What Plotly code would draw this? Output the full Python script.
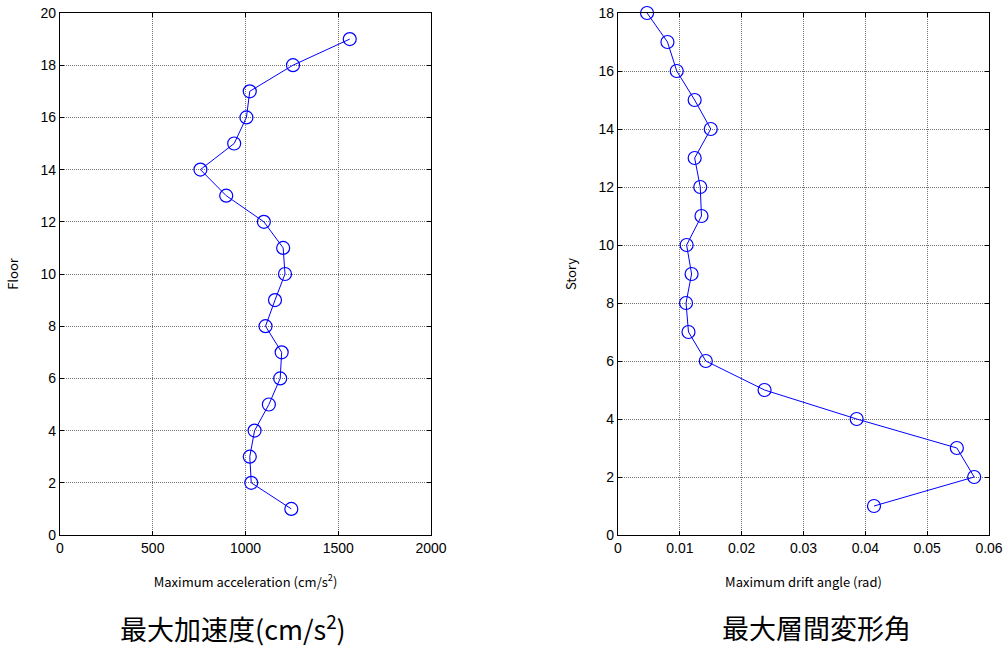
import plotly.graph_objects as go

floors = list(range(1, 20))
accel = [1247, 1031, 1023, 1049, 1126, 1187, 1195, 1108, 1159, 1213,
         1203, 1099, 896, 757, 939, 1005, 1023, 1256, 1562]

stories = list(range(1, 19))
drift = [0.0414, 0.0576, 0.0548, 0.0386, 0.0237, 0.0142, 0.0114, 0.0110, 0.0119,
         0.0111, 0.0135, 0.0133, 0.0124, 0.0150, 0.0124, 0.0095, 0.0080, 0.0047]

W, H = 1007, 647
fig = go.Figure()

mk = dict(symbol="circle-open", size=13, color="#0000ff", line=dict(width=1.2, color="#0000ff"))
fig.add_trace(go.Scatter(x=accel, y=floors, mode="lines+markers",
                         line=dict(color="#0000ff", width=1), marker=mk,
                         xaxis="x", yaxis="y", showlegend=False, cliponaxis=False))
fig.add_trace(go.Scatter(x=drift, y=stories, mode="lines+markers",
                         line=dict(color="#0000ff", width=1), marker=mk,
                         xaxis="x2", yaxis="y2", showlegend=False, cliponaxis=False))

tickfont = dict(family="Liberation Sans, Arial", size=14, color="black")
titlefont = dict(family="Noto Sans CJK JP", size=13, color="black")

def px(v):
    return v / W

def py(v):
    return 1 - v / H

def ax(**kw):
    d = dict(showline=True, linecolor="black", linewidth=1.3, mirror="allticks",
             ticks="inside", ticklen=4, tickcolor="black", automargin=False,
             ticklabeloverflow="allow",
             showgrid=True, gridcolor="#707070", griddash="1px,1px", gridwidth=1,
             zeroline=False, tickfont=tickfont)
    d.update(kw)
    return d

y0 = py(535)
y1 = py(13)

fig.update_layout(
    width=W, height=H,
    margin=dict(l=0, r=0, t=0, b=0),
    paper_bgcolor="white", plot_bgcolor="white",
    xaxis=ax(domain=[px(60), px(431)], range=[0, 2000], tickvals=[0, 500, 1000, 1500, 2000],
             anchor="y",
             title=dict(text="Maximum acceleration (cm/s<sup>2</sup>)", font=titlefont, standoff=22)),
    yaxis=ax(domain=[y0, y1], range=[0, 20], tickvals=list(range(0, 21, 2)), anchor="x",
             title=dict(text="Floor", font=titlefont, standoff=18)),
    xaxis2=ax(domain=[px(618), px(989)], range=[0, 0.06],
              tickvals=[0, 0.01, 0.02, 0.03, 0.04, 0.05, 0.06],
              ticktext=["0", "0.01", "0.02", "0.03", "0.04", "0.05", "0.06"], anchor="y2",
              title=dict(text="Maximum drift angle (rad)", font=titlefont, standoff=22)),
    yaxis2=ax(domain=[y0, y1], range=[0, 18], tickvals=list(range(0, 19, 2)), anchor="x2",
              title=dict(text="Story", font=titlefont, standoff=18)),
    annotations=[
        dict(text="最大加速度(cm/s<sup>2</sup>)", x=px(233), y=py(627), xref="paper", yref="paper",
             xanchor="center", yanchor="middle", showarrow=False,
             font=dict(family="Noto Sans CJK JP", size=27, color="black")),
        dict(text="最大層間変形角", x=px(816), y=py(627), xref="paper", yref="paper",
             xanchor="center", yanchor="middle", showarrow=False,
             font=dict(family="Noto Sans CJK JP", size=27, color="black")),
    ],
)

fig.write_html("out.html", config={"displayModeBar": False},
               post_script="document.body.style.margin='0';document.body.style.overflow='hidden';")
